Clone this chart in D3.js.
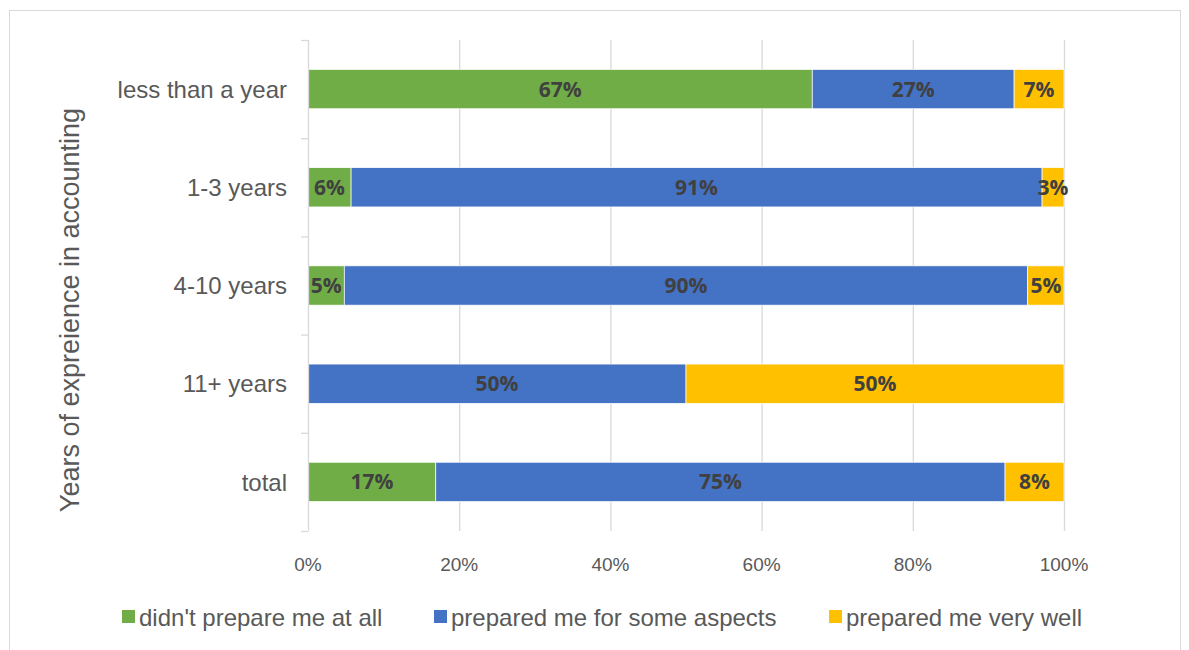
<!DOCTYPE html>
<html>
<head>
<meta charset="utf-8">
<script src="https://cdn.jsdelivr.net/npm/d3@7"></script>
<style>
  body { margin: 0; background: #fff; }
  svg { display: block; }
</style>
</head>
<body>
<div id="chart"></div>
<script>
// categories, top to bottom
var categories = ["less than a year", "1-3 years", "4-10 years", "11+ years", "total"];
var seriesNames = ["didn't prepare me at all", "prepared me for some aspects", "prepared me very well"];
var seriesColors = ["#70AD47", "#4472C4", "#FFC000"];
// shares in percent, one array per series
var notAtAll = [66.7, 5.7, 4.8, 0, 16.9];
var someAspects = [26.7, 91.4, 90.4, 50, 75.3];
var veryWell = [6.6, 2.9, 4.8, 50, 7.8];
var xTicks = [0, 20, 40, 60, 80, 100];

var W = 1189, H = 650;
var margin = {left: 308, right: 125, top: 40, bottom: 119};
var svg = d3.select("#chart").append("svg")
  .attr("width", W).attr("height", H);

// chart frame
svg.append("rect")
  .attr("x", 9.5).attr("y", 10.5)
  .attr("width", 1171).attr("height", 660)
  .attr("fill", "#fff").attr("stroke", "#d9d9d9");

var x = d3.scaleLinear().domain([0, 100]).range([margin.left, W - margin.right]);
var y = d3.scaleBand().domain(categories)
  .range([margin.top, H - margin.bottom]).paddingInner(0.6).paddingOuter(0.3);
var band = d3.scaleBand().domain(categories).range([margin.top, H - margin.bottom]);

// gridlines
svg.append("g").selectAll("line").data(xTicks.slice(1)).enter().append("line")
  .attr("x1", function(d) { return x(d) + 0.5; })
  .attr("x2", function(d) { return x(d) + 0.5; })
  .attr("y1", margin.top).attr("y2", H - margin.bottom)
  .attr("stroke", "#d9d9d9").attr("stroke-width", 1.3);

// x tick labels
svg.append("g").selectAll("text").data(xTicks).enter().append("text")
  .attr("x", function(d) { return x(d); })
  .attr("y", 571)
  .attr("text-anchor", "middle")
  .attr("font-family", "Liberation Sans, Arial, sans-serif")
  .attr("font-size", 19)
  .attr("fill", "#595959")
  .text(function(d) { return d + "%"; });

// stacked bars
var rows = categories.map(function(c, i) {
  return {cat: c, vals: [notAtAll[i], someAspects[i], veryWell[i]]};
});
var segs = [];
rows.forEach(function(r) {
  var acc = 0;
  r.vals.forEach(function(v, k) {
    segs.push({cat: r.cat, k: k, x0: acc, x1: acc + v, v: v});
    acc += v;
  });
});

svg.append("g").selectAll("rect").data(segs.filter(function(s) { return s.v > 0; }))
  .enter().append("rect")
  .attr("x", function(s) { return x(s.x0); })
  .attr("width", function(s) { return x(s.x1) - x(s.x0); })
  .attr("y", function(s) { return y(s.cat); })
  .attr("height", y.bandwidth())
  .attr("fill", function(s) { return seriesColors[s.k]; })
  .attr("stroke", "#fff").attr("stroke-width", 0.7);

svg.append("g").selectAll("text").data(segs.filter(function(s) { return s.v > 0; }))
  .enter().append("text")
  .attr("x", function(s) { return (x(s.x0) + x(s.x1)) / 2; })
  .attr("y", function(s) { return y(s.cat) + y.bandwidth() / 2; })
  .attr("dy", "0.36em")
  .attr("text-anchor", "middle")
  .attr("font-family", "Open Sans, Liberation Sans, sans-serif")
  .attr("font-weight", "bold")
  .attr("font-size", 21)
  .attr("fill", "#404040")
  .text(function(s) { return Math.round(s.v) + "%"; });

// y axis line and ticks
var ya = svg.append("g").attr("stroke", "#d9d9d9").attr("stroke-width", 1.3);
ya.append("line")
  .attr("x1", margin.left + 0.5).attr("x2", margin.left + 0.5)
  .attr("y1", margin.top).attr("y2", H - margin.bottom);
var bounds = categories.map(function(c) { return band(c); }).concat([H - margin.bottom]);
ya.selectAll("line.t").data(bounds).enter().append("line")
  .attr("class", "t")
  .attr("x1", margin.left - 7).attr("x2", margin.left)
  .attr("y1", function(d) { return d + 0.5; })
  .attr("y2", function(d) { return d + 0.5; });

// category labels
svg.append("g").selectAll("text").data(categories).enter().append("text")
  .attr("x", 287)
  .attr("y", function(c) { return band(c) + band.bandwidth() / 2; })
  .attr("dy", "0.36em")
  .attr("text-anchor", "end")
  .attr("font-family", "Liberation Sans, Arial, sans-serif")
  .attr("font-size", 24)
  .attr("fill", "#595959")
  .text(function(c) { return c; });

// y axis title
svg.append("text")
  .attr("transform", "translate(79,310) rotate(-90)")
  .attr("text-anchor", "middle")
  .attr("font-family", "Liberation Sans, Arial, sans-serif")
  .attr("font-size", 27)
  .attr("fill", "#595959")
  .text("Years of expreience in accounting");

// legend
var legendX = [122, 434, 829];
var lg = svg.append("g").selectAll("g").data(seriesNames).enter().append("g")
  .attr("transform", function(d, i) { return "translate(" + legendX[i] + ",617)"; });
lg.append("rect")
  .attr("x", 0).attr("y", -7).attr("width", 13).attr("height", 13)
  .attr("fill", function(d, i) { return seriesColors[i]; });
lg.append("text")
  .attr("x", 17).attr("dy", "0.36em")
  .attr("font-family", "Liberation Sans, Arial, sans-serif")
  .attr("font-size", 24)
  .attr("fill", "#595959")
  .text(function(d) { return d; });
</script>
</body>
</html>
